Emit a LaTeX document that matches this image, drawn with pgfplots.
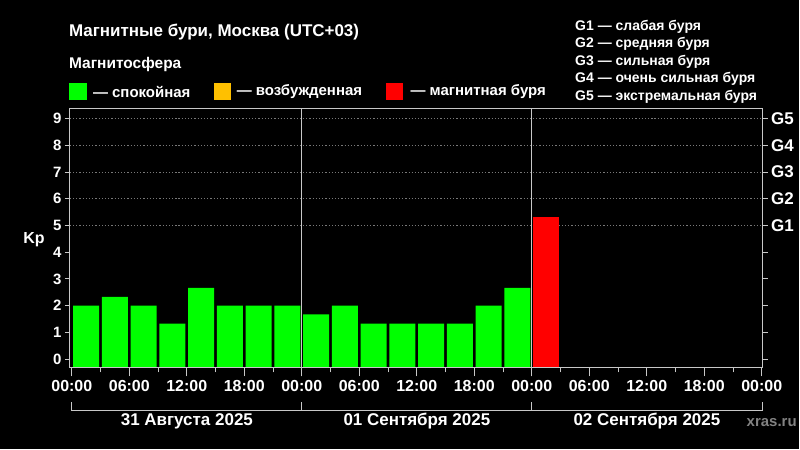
\documentclass[border=0pt]{standalone}
\usepackage{pgfplots}
\pgfplotsset{compat=1.18}
\usepackage{pgfplotstable}
\usepackage{fontspec}
\setmainfont{Liberation Sans}
\definecolor{kgreen}{RGB}{0,255,0}
\definecolor{kred}{RGB}{255,0,0}
\definecolor{korange}{RGB}{255,192,0}
\definecolor{framec}{RGB}{200,200,200}
\definecolor{gridc}{RGB}{120,120,120}
\definecolor{wmark}{RGB}{130,130,130}

% Kp index every 3 hours (bar centre in hours from 31 Aug 00:00)
\pgfplotstableread{
x v
1.5 2
4.5 2.33
7.5 2
10.5 1.33
13.5 2.67
16.5 2
19.5 2
22.5 2
25.5 1.67
28.5 2
31.5 1.33
34.5 1.33
37.5 1.33
40.5 1.33
43.5 2
46.5 2.67
}\quiet
\pgfplotstableread{
x v
49.5 5.33
}\storm

\newcommand{\fs}[1]{\fontsize{#1}{#1}\selectfont\bfseries}

\begin{document}
\begin{tikzpicture}[x=1pt,y=1pt]
\fill[black] (0,0) rectangle (800,450);

% titles
\node[anchor=west, text=white, font=\fs{17}, inner sep=0] at (69,418) {Магнитные бури, Москва (UTC+03)};
\node[anchor=west, text=white, font=\fs{15.5}, inner sep=0] at (69,385) {Магнитосфера};
% legend
\fill[kgreen] (69,350) rectangle (87,367);
\node[anchor=west, text=white, font=\fs{15}, inner sep=0] at (93,358) {— спокойная};
\fill[korange] (214,350) rectangle (231,367);
\node[anchor=west, text=white, font=\fs{15}, inner sep=0] at (237,358) {— возбужденная};
\fill[kred] (387,350) rectangle (404,367);
\node[anchor=west, text=white, font=\fs{15}, inner sep=0] at (411,358) {— магнитная буря};
% G scale
\node[anchor=west, text=white, font=\fs{14}, inner sep=0] at (576,423) {G1 — слабая буря};
\node[anchor=west, text=white, font=\fs{14}, inner sep=0] at (576,406) {G2 — средняя буря};
\node[anchor=west, text=white, font=\fs{14}, inner sep=0] at (576,388.5) {G3 — сильная буря};
\node[anchor=west, text=white, font=\fs{14}, inner sep=0] at (576,371) {G4 — очень сильная буря};
\node[anchor=west, text=white, font=\fs{14}, inner sep=0] at (576,353.5) {G5 — экстремальная буря};

% left y labels + dotted grid
\begin{axis}[
  at={(70pt,82pt)}, anchor=south west, scale only axis,
  width=694pt, height=259pt,
  xmin=-0.2, xmax=72.1, ymin=-0.31, ymax=9.37,
  axis line style={framec, line width=1pt},
  xtick=\empty,
  ytick={0,...,9}, yticklabels={0,1,2,3,4,5,6,7,8,9},
  ytick pos=left, tick align=outside, major tick length=5pt,
  tick style={framec, line width=1pt},
  yticklabel style={text=white, font=\fs{15}},
  /pgf/number format/assume math mode=true,
  extra y ticks={5,6,7,8,9}, extra y tick labels={},
  extra y tick style={grid=major, major grid style={gridc, line width=0.8pt, dash pattern=on 1.2pt off 2pt}},
]
\end{axis}

% bars and time axis
\begin{axis}[
  at={(70pt,82pt)}, anchor=south west, scale only axis,
  width=694pt, height=259pt,
  xmin=-0.2, xmax=72.1, ymin=-0.31, ymax=9.37,
  axis line style={framec, line width=1pt},
  ytick=\empty,
  xtick={0,6,...,72},
  xticklabels={00:00,06:00,12:00,18:00,00:00,06:00,12:00,18:00,00:00,06:00,12:00,18:00,00:00},
  minor xtick={3,9,...,69},
  xtick pos=bottom, tick align=outside,
  major tick length=9pt, minor tick length=5pt,
  tick style={framec, line width=1pt},
  xticklabel style={text=white, font=\fs{16}},
  extra x ticks={24,48}, extra x tick labels={},
  extra x tick style={grid=major, major grid style={framec, line width=1.2pt}},
]
\addplot[ybar, bar width=2.7, bar shift=0pt, fill=kgreen, draw=none] table[x=x, y=v] {\quiet};
\addplot[ybar, bar width=2.7, bar shift=0pt, fill=kgreen, draw=none] table[x=x, y expr=-0.31] {\quiet};
\addplot[ybar, bar width=2.7, bar shift=0pt, fill=kred, draw=none] table[x=x, y=v] {\storm};
\addplot[ybar, bar width=2.7, bar shift=0pt, fill=kred, draw=none] table[x=x, y expr=-0.31] {\storm};
\end{axis}

% right G labels
\begin{axis}[
  at={(70pt,82pt)}, anchor=south west, scale only axis,
  width=694pt, height=259pt,
  xmin=-0.2, xmax=72.1, ymin=-0.31, ymax=9.37,
  axis line style={framec, line width=1pt},
  xtick=\empty,
  ytick={0,...,9}, yticklabels={,,,,,G1,G2,G3,G4,G5},
  ytick pos=right, yticklabel pos=right, tick align=outside, major tick length=5pt,
  tick style={framec, line width=1pt},
  yticklabel style={text=white, font=\fs{17}},
]
\end{axis}

\node[text=white, font=\fs{16}] at (34,210) {Kp};

% date bracket
\draw[framec, line width=1pt] (72,47) -- (72,38.5) -- (763.3,38.5) -- (763.3,47);
\draw[framec, line width=1pt] (302.4,47) -- (302.4,38.5);
\draw[framec, line width=1pt] (532.8,47) -- (532.8,38.5);
\node[text=white, font=\fs{17}] at (187.2,28) {31 Августа 2025};
\node[text=white, font=\fs{17}] at (417.6,28) {01 Сентября 2025};
\node[text=white, font=\fs{17}] at (648,28) {02 Сентября 2025};
\node[text=wmark, font=\fs{15}] at (773,27) {xras.ru};
\end{tikzpicture}
\end{document}
